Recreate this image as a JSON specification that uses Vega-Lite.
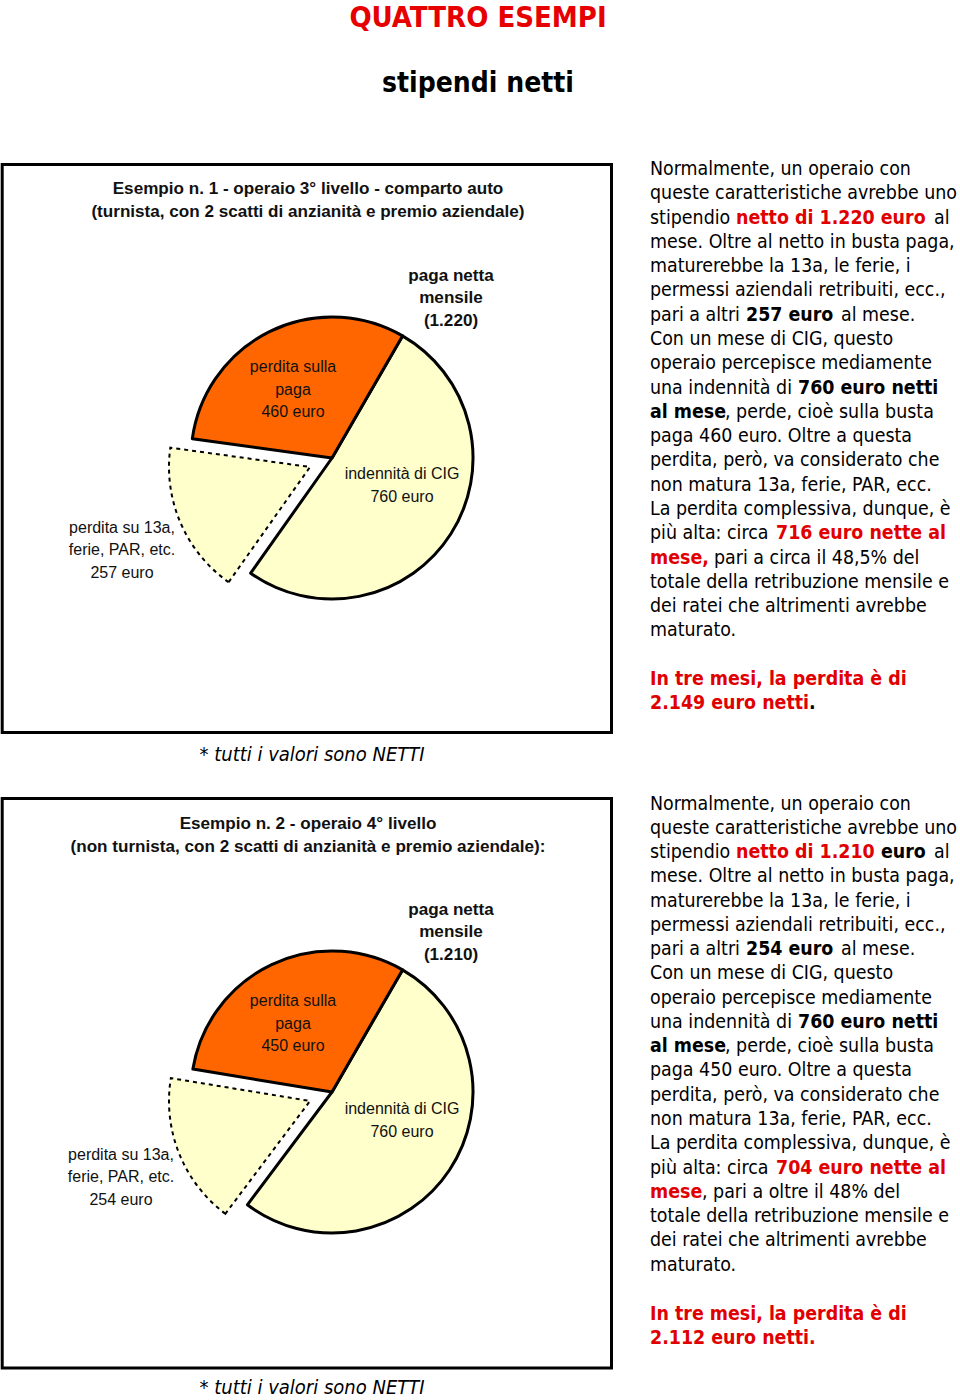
{
  "$schema": "https://vega.github.io/schema/vega-lite/v6.json",
  "width": 960,
  "height": 1400,
  "autosize": {"type": "fit", "contains": "padding"},
  "padding": 0,
  "background": "white",
  "config": {"view": {"stroke": null}},
  "resolve": {"scale": {"theta": "independent"}},
  "datasets": {
    "pie1": [
      {"part": "CIG", "value": 760, "ord": 1},
      {"part": "13a", "value": 257, "ord": 2},
      {"part": "perdita", "value": 460, "ord": 3}
    ],
    "pie2": [
      {"part": "CIG", "value": 760, "ord": 1},
      {"part": "13a", "value": 254, "ord": 2},
      {"part": "perdita", "value": 450, "ord": 3}
    ],
    "body": [
      {"kind": "n", "x": 650, "y": 169, "text": "Normalmente, un operaio con"},
      {"kind": "n", "x": 650, "y": 193, "text": "queste caratteristiche avrebbe uno"},
      {"kind": "n", "x": 650, "y": 218, "text": "stipendio"},
      {"kind": "r", "x": 736, "y": 218, "text": "netto di 1.220 euro"},
      {"kind": "n", "x": 934, "y": 218, "text": "al"},
      {"kind": "n", "x": 650, "y": 242, "text": "mese. Oltre al netto in busta paga,"},
      {"kind": "n", "x": 650, "y": 266, "text": "maturerebbe la 13a, le ferie, i"},
      {"kind": "n", "x": 650, "y": 290, "text": "permessi aziendali retribuiti, ecc.,"},
      {"kind": "n", "x": 650, "y": 315, "text": "pari a altri"},
      {"kind": "b", "x": 746, "y": 315, "text": "257 euro"},
      {"kind": "n", "x": 841, "y": 315, "text": "al mese."},
      {"kind": "n", "x": 650, "y": 339, "text": "Con un mese di CIG, questo"},
      {"kind": "n", "x": 650, "y": 363, "text": "operaio percepisce mediamente"},
      {"kind": "n", "x": 650, "y": 388, "text": "una indennità di"},
      {"kind": "b", "x": 798, "y": 388, "text": "760 euro netti"},
      {"kind": "b", "x": 650, "y": 412, "text": "al mese"},
      {"kind": "n", "x": 725, "y": 412, "text": ", perde, cioè sulla busta"},
      {"kind": "n", "x": 650, "y": 436, "text": "paga 460 euro. Oltre a questa"},
      {"kind": "n", "x": 650, "y": 460, "text": "perdita, però, va considerato che"},
      {"kind": "n", "x": 650, "y": 485, "text": "non matura 13a, ferie, PAR, ecc."},
      {"kind": "n", "x": 650, "y": 509, "text": "La perdita complessiva, dunque, è"},
      {"kind": "n", "x": 650, "y": 533, "text": "più alta: circa"},
      {"kind": "r", "x": 776, "y": 533, "text": "716 euro nette al"},
      {"kind": "r", "x": 650, "y": 558, "text": "mese,"},
      {"kind": "n", "x": 714, "y": 558, "text": "pari a circa il 48,5% del"},
      {"kind": "n", "x": 650, "y": 582, "text": "totale della retribuzione mensile e"},
      {"kind": "n", "x": 650, "y": 606, "text": "dei ratei che altrimenti avrebbe"},
      {"kind": "n", "x": 650, "y": 630, "text": "maturato."},
      {"kind": "r", "x": 650, "y": 679, "text": "In tre mesi, la perdita è di"},
      {"kind": "r", "x": 650, "y": 703, "text": "2.149 euro netti"},
      {"kind": "b", "x": 809, "y": 703, "text": "."},
      {"kind": "n", "x": 650, "y": 804, "text": "Normalmente, un operaio con"},
      {"kind": "n", "x": 650, "y": 828, "text": "queste caratteristiche avrebbe uno"},
      {"kind": "n", "x": 650, "y": 852, "text": "stipendio"},
      {"kind": "r", "x": 736, "y": 852, "text": "netto di 1.210"},
      {"kind": "b", "x": 881, "y": 852, "text": "euro"},
      {"kind": "n", "x": 934, "y": 852, "text": "al"},
      {"kind": "n", "x": 650, "y": 876, "text": "mese. Oltre al netto in busta paga,"},
      {"kind": "n", "x": 650, "y": 901, "text": "maturerebbe la 13a, le ferie, i"},
      {"kind": "n", "x": 650, "y": 925, "text": "permessi aziendali retribuiti, ecc.,"},
      {"kind": "n", "x": 650, "y": 949, "text": "pari a altri"},
      {"kind": "b", "x": 746, "y": 949, "text": "254 euro"},
      {"kind": "n", "x": 841, "y": 949, "text": "al mese."},
      {"kind": "n", "x": 650, "y": 973, "text": "Con un mese di CIG, questo"},
      {"kind": "n", "x": 650, "y": 998, "text": "operaio percepisce mediamente"},
      {"kind": "n", "x": 650, "y": 1022, "text": "una indennità di"},
      {"kind": "b", "x": 798, "y": 1022, "text": "760 euro netti"},
      {"kind": "b", "x": 650, "y": 1046, "text": "al mese"},
      {"kind": "n", "x": 725, "y": 1046, "text": ", perde, cioè sulla busta"},
      {"kind": "n", "x": 650, "y": 1070, "text": "paga 450 euro. Oltre a questa"},
      {"kind": "n", "x": 650, "y": 1095, "text": "perdita, però, va considerato che"},
      {"kind": "n", "x": 650, "y": 1119, "text": "non matura 13a, ferie, PAR, ecc."},
      {"kind": "n", "x": 650, "y": 1143, "text": "La perdita complessiva, dunque, è"},
      {"kind": "n", "x": 650, "y": 1168, "text": "più alta: circa"},
      {"kind": "r", "x": 776, "y": 1168, "text": "704 euro nette al"},
      {"kind": "r", "x": 650, "y": 1192, "text": "mese"},
      {"kind": "n", "x": 702, "y": 1192, "text": ", pari a oltre il 48% del"},
      {"kind": "n", "x": 650, "y": 1216, "text": "totale della retribuzione mensile e"},
      {"kind": "n", "x": 650, "y": 1240, "text": "dei ratei che altrimenti avrebbe"},
      {"kind": "n", "x": 650, "y": 1265, "text": "maturato."},
      {"kind": "r", "x": 650, "y": 1314, "text": "In tre mesi, la perdita è di"},
      {"kind": "r", "x": 650, "y": 1338, "text": "2.112 euro netti."}
    ]
  },
  "layer": [
    {
      "data": {"values": [
        {"x": 2.2, "x2": 611.5, "y": 164.5, "y2": 732.5},
        {"x": 2.2, "x2": 611.5, "y": 798.5, "y2": 1368}
      ]},
      "mark": {"type": "rect", "fillOpacity": 0, "stroke": "black", "strokeWidth": 3},
      "encoding": {
        "x": {"field": "x", "type": "quantitative", "scale": {"domain": [0, 960], "nice": false, "zero": false}, "axis": null},
        "y": {"field": "y", "type": "quantitative", "scale": {"domain": [0, 1400], "reverse": true, "nice": false, "zero": false}, "axis": null},
        "x2": {"field": "x2"},
        "y2": {"field": "y2"}
      }
    },
    {
      "data": {"name": "pie1"},
      "transform": [{"stack": "value", "groupby": [], "sort": [{"field": "ord", "order": "ascending"}], "offset": "normalize", "as": ["t0", "t1"]}],
      "mark": {"type": "arc", "outerRadius": 141, "stroke": "black", "strokeWidth": 3, "strokeJoin": "round"},
      "encoding": {
        "x": {"datum": 332, "type": "quantitative", "stack": null, "scale": {"domain": [0, 960], "nice": false, "zero": false}, "axis": null},
        "y": {"datum": 458, "type": "quantitative", "stack": null, "scale": {"domain": [0, 1400], "reverse": true, "nice": false, "zero": false}, "axis": null},
        "theta": {"field": "t0", "type": "quantitative", "scale": {"domain": [0, 1], "range": [0.5236, 6.8068], "zero": true, "nice": false}},
        "theta2": {"field": "t1"},
        "color": {"field": "part", "type": "nominal", "scale": {"domain": ["CIG", "13a", "perdita"], "range": ["#FFFFCC", "#FFFFCC", "#FF6600"]}, "legend": null},
        "opacity": {"condition": {"test": "datum.part === '13a'", "value": 0}, "value": 1}
      }
    },
    {
      "data": {"name": "pie1"},
      "transform": [{"stack": "value", "groupby": [], "sort": [{"field": "ord", "order": "ascending"}], "offset": "normalize", "as": ["t0", "t1"]}],
      "mark": {"type": "arc", "outerRadius": 141, "stroke": "black", "strokeWidth": 2, "strokeDash": [4, 4]},
      "encoding": {
        "x": {"datum": 310, "type": "quantitative", "stack": null, "scale": {"domain": [0, 960], "nice": false, "zero": false}, "axis": null},
        "y": {"datum": 467, "type": "quantitative", "stack": null, "scale": {"domain": [0, 1400], "reverse": true, "nice": false, "zero": false}, "axis": null},
        "theta": {"field": "t0", "type": "quantitative", "scale": {"domain": [0, 1], "range": [0.5236, 6.8068], "zero": true, "nice": false}},
        "theta2": {"field": "t1"},
        "color": {"field": "part", "type": "nominal", "legend": null},
        "opacity": {"condition": {"test": "datum.part === '13a'", "value": 1}, "value": 0}
      }
    },
    {
      "data": {"name": "pie2"},
      "transform": [{"stack": "value", "groupby": [], "sort": [{"field": "ord", "order": "ascending"}], "offset": "normalize", "as": ["t0", "t1"]}],
      "mark": {"type": "arc", "outerRadius": 141, "stroke": "black", "strokeWidth": 3, "strokeJoin": "round"},
      "encoding": {
        "x": {"datum": 332, "type": "quantitative", "stack": null, "scale": {"domain": [0, 960], "nice": false, "zero": false}, "axis": null},
        "y": {"datum": 1092, "type": "quantitative", "stack": null, "scale": {"domain": [0, 1400], "reverse": true, "nice": false, "zero": false}, "axis": null},
        "theta": {"field": "t0", "type": "quantitative", "scale": {"domain": [0, 1], "range": [0.5236, 6.8068], "zero": true, "nice": false}},
        "theta2": {"field": "t1"},
        "color": {"field": "part", "type": "nominal", "legend": null},
        "opacity": {"condition": {"test": "datum.part === '13a'", "value": 0}, "value": 1}
      }
    },
    {
      "data": {"name": "pie2"},
      "transform": [{"stack": "value", "groupby": [], "sort": [{"field": "ord", "order": "ascending"}], "offset": "normalize", "as": ["t0", "t1"]}],
      "mark": {"type": "arc", "outerRadius": 141, "stroke": "black", "strokeWidth": 2, "strokeDash": [4, 4]},
      "encoding": {
        "x": {"datum": 310, "type": "quantitative", "stack": null, "scale": {"domain": [0, 960], "nice": false, "zero": false}, "axis": null},
        "y": {"datum": 1101, "type": "quantitative", "stack": null, "scale": {"domain": [0, 1400], "reverse": true, "nice": false, "zero": false}, "axis": null},
        "theta": {"field": "t0", "type": "quantitative", "scale": {"domain": [0, 1], "range": [0.5236, 6.8068], "zero": true, "nice": false}},
        "theta2": {"field": "t1"},
        "color": {"field": "part", "type": "nominal", "legend": null},
        "opacity": {"condition": {"test": "datum.part === '13a'", "value": 1}, "value": 0}
      }
    },
    {
      "data": {"values": [{"x": 478, "y": 27, "text": "QUATTRO ESEMPI"}]},
      "mark": {"type": "text", "font": "DejaVu Sans Condensed", "fontSize": 29, "fontWeight": "bold", "color": "#e60000", "align": "center", "baseline": "alphabetic"},
      "encoding": {
        "x": {"field": "x", "type": "quantitative", "scale": {"domain": [0, 960], "nice": false, "zero": false}, "axis": null},
        "y": {"field": "y", "type": "quantitative", "scale": {"domain": [0, 1400], "reverse": true, "nice": false, "zero": false}, "axis": null},
        "text": {"field": "text"}
      }
    },
    {
      "data": {"values": [{"x": 478, "y": 92, "text": "stipendi netti"}]},
      "mark": {"type": "text", "font": "DejaVu Sans Condensed", "fontSize": 28, "fontWeight": "bold", "color": "black", "align": "center", "baseline": "alphabetic"},
      "encoding": {
        "x": {"field": "x", "type": "quantitative", "scale": {"domain": [0, 960], "nice": false, "zero": false}, "axis": null},
        "y": {"field": "y", "type": "quantitative", "scale": {"domain": [0, 1400], "reverse": true, "nice": false, "zero": false}, "axis": null},
        "text": {"field": "text"}
      }
    },
    {
      "data": {"values": [
        {"x": 308, "y": 189, "text": "Esempio n. 1 - operaio 3° livello - comparto auto"},
        {"x": 308, "y": 212, "text": "(turnista, con 2 scatti di anzianità e premio aziendale)"},
        {"x": 308, "y": 824, "text": "Esempio n. 2 - operaio 4° livello"},
        {"x": 308, "y": 847, "text": "(non turnista, con 2 scatti di anzianità e premio aziendale):"},
        {"x": 451, "y": 276, "text": "paga netta"},
        {"x": 451, "y": 298, "text": "mensile"},
        {"x": 451, "y": 321, "text": "(1.220)"},
        {"x": 451, "y": 910, "text": "paga netta"},
        {"x": 451, "y": 932, "text": "mensile"},
        {"x": 451, "y": 955, "text": "(1.210)"}
      ]},
      "mark": {"type": "text", "font": "Liberation Sans", "fontSize": 17.1, "fontWeight": "bold", "color": "#111111", "align": "center", "baseline": "middle"},
      "encoding": {
        "x": {"field": "x", "type": "quantitative", "scale": {"domain": [0, 960], "nice": false, "zero": false}, "axis": null},
        "y": {"field": "y", "type": "quantitative", "scale": {"domain": [0, 1400], "reverse": true, "nice": false, "zero": false}, "axis": null},
        "text": {"field": "text"}
      }
    },
    {
      "data": {"values": [
        {"x": 293, "y": 367, "text": "perdita sulla"},
        {"x": 293, "y": 390, "text": "paga"},
        {"x": 293, "y": 412, "text": "460 euro"},
        {"x": 402, "y": 474, "text": "indennità di CIG"},
        {"x": 402, "y": 497, "text": "760 euro"},
        {"x": 122, "y": 528, "text": "perdita su 13a,"},
        {"x": 122, "y": 550, "text": "ferie, PAR, etc."},
        {"x": 122, "y": 573, "text": "257 euro"},
        {"x": 293, "y": 1001, "text": "perdita sulla"},
        {"x": 293, "y": 1024, "text": "paga"},
        {"x": 293, "y": 1046, "text": "450 euro"},
        {"x": 402, "y": 1109, "text": "indennità di CIG"},
        {"x": 402, "y": 1132, "text": "760 euro"},
        {"x": 121, "y": 1155, "text": "perdita su 13a,"},
        {"x": 121, "y": 1177, "text": "ferie, PAR, etc."},
        {"x": 121, "y": 1200, "text": "254 euro"}
      ]},
      "mark": {"type": "text", "font": "Liberation Sans", "fontSize": 16, "color": "#111111", "align": "center", "baseline": "middle"},
      "encoding": {
        "x": {"field": "x", "type": "quantitative", "scale": {"domain": [0, 960], "nice": false, "zero": false}, "axis": null},
        "y": {"field": "y", "type": "quantitative", "scale": {"domain": [0, 1400], "reverse": true, "nice": false, "zero": false}, "axis": null},
        "text": {"field": "text"}
      }
    },
    {
      "data": {"values": [
        {"x": 312, "y": 755, "text": "* tutti i valori sono NETTI"},
        {"x": 312, "y": 1388, "text": "* tutti i valori sono NETTI"}
      ]},
      "mark": {"type": "text", "font": "DejaVu Sans Condensed", "fontSize": 20, "fontStyle": "italic", "color": "black", "align": "center", "baseline": "middle"},
      "encoding": {
        "x": {"field": "x", "type": "quantitative", "scale": {"domain": [0, 960], "nice": false, "zero": false}, "axis": null},
        "y": {"field": "y", "type": "quantitative", "scale": {"domain": [0, 1400], "reverse": true, "nice": false, "zero": false}, "axis": null},
        "text": {"field": "text"}
      }
    },
    {
      "data": {"name": "body"},
      "transform": [{"filter": "datum.kind === 'n'"}],
      "mark": {"type": "text", "font": "DejaVu Sans Condensed", "fontSize": 19.4, "color": "black", "align": "left", "baseline": "middle"},
      "encoding": {
        "x": {"field": "x", "type": "quantitative", "scale": {"domain": [0, 960], "nice": false, "zero": false}, "axis": null},
        "y": {"field": "y", "type": "quantitative", "scale": {"domain": [0, 1400], "reverse": true, "nice": false, "zero": false}, "axis": null},
        "text": {"field": "text"}
      }
    },
    {
      "data": {"name": "body"},
      "transform": [{"filter": "datum.kind === 'b'"}],
      "mark": {"type": "text", "font": "DejaVu Sans Condensed", "fontSize": 19.4, "fontWeight": "bold", "color": "black", "align": "left", "baseline": "middle"},
      "encoding": {
        "x": {"field": "x", "type": "quantitative", "scale": {"domain": [0, 960], "nice": false, "zero": false}, "axis": null},
        "y": {"field": "y", "type": "quantitative", "scale": {"domain": [0, 1400], "reverse": true, "nice": false, "zero": false}, "axis": null},
        "text": {"field": "text"}
      }
    },
    {
      "data": {"name": "body"},
      "transform": [{"filter": "datum.kind === 'r'"}],
      "mark": {"type": "text", "font": "DejaVu Sans Condensed", "fontSize": 19.4, "fontWeight": "bold", "color": "#e00000", "align": "left", "baseline": "middle"},
      "encoding": {
        "x": {"field": "x", "type": "quantitative", "scale": {"domain": [0, 960], "nice": false, "zero": false}, "axis": null},
        "y": {"field": "y", "type": "quantitative", "scale": {"domain": [0, 1400], "reverse": true, "nice": false, "zero": false}, "axis": null},
        "text": {"field": "text"}
      }
    }
  ]
}
